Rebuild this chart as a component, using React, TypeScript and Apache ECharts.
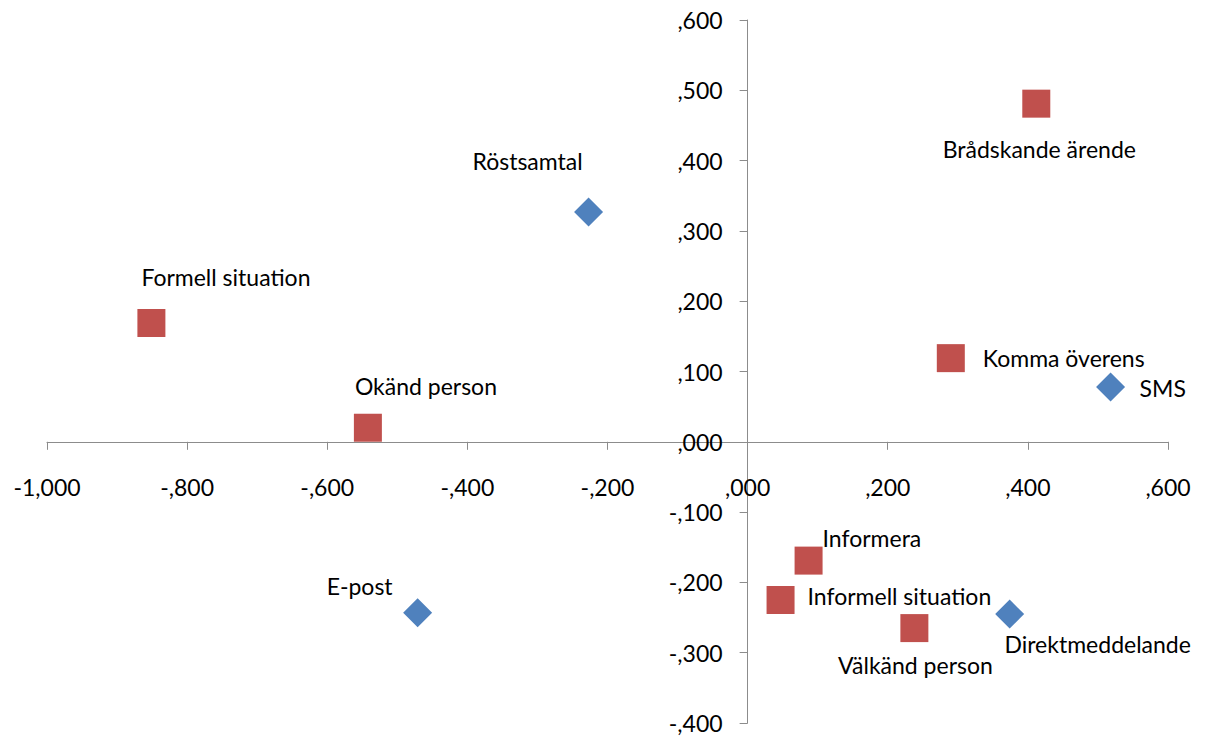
import React, { useEffect, useRef } from "react";
import * as echarts from "echarts";

// Blue diamonds (channels)
const channelNames = ["Röstsamtal", "SMS", "E-post", "Direktmeddelande"];
const channelX = [-0.227, 0.518, -0.471, 0.374];
const channelY = [0.327, 0.078, -0.243, -0.245];

// Red squares (situations)
const situationNames = [
  "Brådskande ärende",
  "Formell situation",
  "Okänd person",
  "Komma överens",
  "Informera",
  "Informell situation",
  "Välkänd person",
];
const situationX = [0.412, -0.851, -0.542, 0.29, 0.087, 0.047, 0.238];
const situationY = [0.481, 0.169, 0.02, 0.119, -0.169, -0.225, -0.265];

// axis ranges
const X_MIN = -1.0;
const X_MAX = 0.6;
const Y_MIN = -0.4;
const Y_MAX = 0.6;

// label placement (offset from marker centre, alignment)
const channelLabelPos: [number, number, string][] = [
  [-61, -51, "center"],
  [29, 1, "left"],
  [-58, -27, "center"],
  [88, 30, "center"],
];
const situationLabelPos: [number, number, string][] = [
  [3, 45, "center"],
  [-10, -46, "left"],
  [-13, -42, "left"],
  [32, 0, "left"],
  [14, -23, "left"],
  [27, -4, "left"],
  [1, 37, "center"],
];

const FONT = "Lato, 'Noto Sans', sans-serif";
const FS = 23;
const W = 1212;
const H = 736;
const GRID = { left: 47, right: 44, top: 20, bottom: 13 };

function fmt(v: number): string {
  const neg = v < -1e-9;
  let s = Math.abs(v).toFixed(3).replace(".", ",");
  if (s.startsWith("0")) s = s.slice(1);
  return (neg ? "-" : "") + s;
}

function buildData(
  names: string[],
  xs: number[],
  ys: number[],
  pos: [number, number, string][]
) {
  return names.map((n, i) => ({
    name: n,
    value: [xs[i], ys[i]],
    label: {
      show: true,
      position: "inside",
      align: pos[i][2],
      verticalAlign: "middle",
      offset: [pos[i][0], pos[i][1]],
      formatter: n,
      color: "#000",
      fontSize: FS,
      fontFamily: FONT,
    },
  }));
}

export default function App() {
  const ref = useRef<HTMLDivElement>(null);
  useEffect(() => {
    if (!ref.current) return;
    const chart = echarts.init(ref.current, undefined, { renderer: "svg" });
    const gw = W - GRID.left - GRID.right;
    const gh = H - GRID.top - GRID.bottom;
    // move the axes onto the zero lines
    const xAxisOffset = -(gh * (0 - Y_MIN)) / (Y_MAX - Y_MIN);
    const yAxisOffset = -(gw * (0 - X_MIN)) / (X_MAX - X_MIN);
    const axisCommon = {
      type: "value" as const,
      axisLine: { show: true, onZero: false, lineStyle: { color: "#8c8c8c", width: 1 } },
      axisTick: { show: true, inside: false, length: 8, lineStyle: { color: "#8c8c8c" } },
      splitLine: { show: false },
    };
    chart.setOption({
      animation: false,
      backgroundColor: "#ffffff",
      grid: { ...GRID, containLabel: false, outerBoundsMode: "none" },
      xAxis: {
        ...axisCommon,
        position: "bottom",
        offset: xAxisOffset,
        min: X_MIN,
        max: X_MAX,
        interval: 0.2,
        axisLabel: {
          formatter: (v: number) => fmt(v),
          fontSize: FS,
          lineHeight: 18,
          fontFamily: FONT,
          color: "#000",
          margin: 36,
        },
      },
      yAxis: {
        ...axisCommon,
        position: "left",
        offset: yAxisOffset,
        min: Y_MIN,
        max: Y_MAX,
        interval: 0.1,
        axisLabel: {
          formatter: (v: number) => fmt(v),
          fontSize: FS,
          lineHeight: 18,
          fontFamily: FONT,
          color: "#000",
          margin: 25,
        },
      },
      series: [
        {
          name: "Kanaler",
          type: "scatter",
          symbol: "diamond",
          symbolSize: 29,
          itemStyle: { color: "#4F81BD", opacity: 1 },
          data: buildData(channelNames, channelX, channelY, channelLabelPos),
        },
        {
          name: "Situationer",
          type: "scatter",
          symbol: "rect",
          symbolSize: 28,
          itemStyle: { color: "#C0504D", opacity: 1 },
          data: buildData(situationNames, situationX, situationY, situationLabelPos),
        },
      ],
    });
    return () => chart.dispose();
  }, []);
  return (
    <div
      ref={ref}
      style={{ position: "fixed", left: 0, top: 0, width: W, height: H }}
    />
  );
}
